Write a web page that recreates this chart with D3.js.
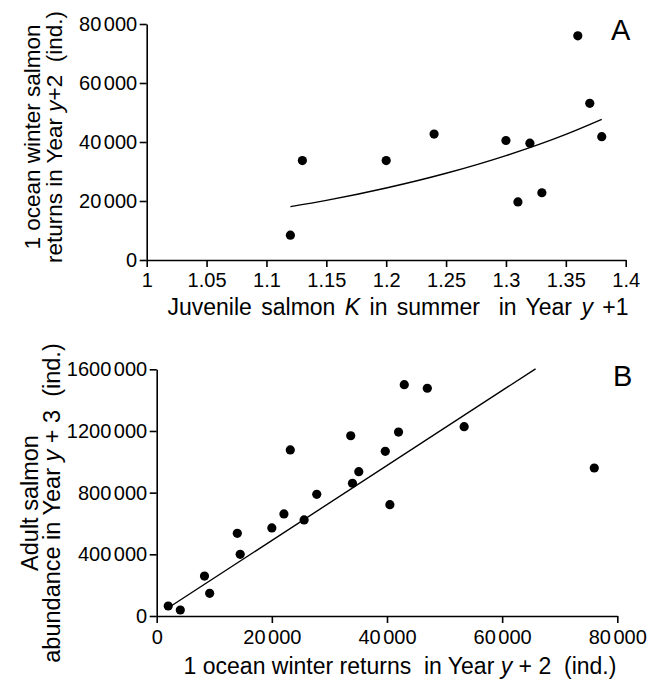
<!DOCTYPE html>
<meta charset="utf-8">
<style>
body { margin: 0; background: #fff; }
svg { font-family: "Liberation Sans", Arial, sans-serif; }
.axis path, .axis line { fill: none; stroke: #000; stroke-width: 1.6; }
.axis text { font-size: 20px; fill: #000; font-family: "Liberation Sans", Arial, sans-serif; }
.dot { fill: #000; }
.fit { fill: none; stroke: #000; stroke-width: 1.4; }
.lbl { white-space: pre; }
</style>
<body>
<svg width="658" height="680"></svg>
<script src="https://cdn.jsdelivr.net/npm/d3@7"></script>
<script>

// Panel A: juvenile condition K vs 1SW returns
var kSummer  = [1.12, 1.13, 1.20, 1.24, 1.30, 1.31, 1.32, 1.33, 1.36, 1.37, 1.38];
var returnsA = [8400, 33700, 33700, 42700, 40500, 19700, 39600, 22800, 76000, 53100, 41800];
// fitted curve
var fitAK  = [1.12, 1.15, 1.20, 1.25, 1.30, 1.35, 1.38];
var fitAY  = [18100, 20200, 24400, 29400, 35400, 42600, 47700];
var xTicksA = [1, 1.05, 1.1, 1.15, 1.2, 1.25, 1.3, 1.35, 1.4];
var yTicksA = [0, 20000, 40000, 60000, 80000];

// Panel B: 1SW returns vs adult abundance
var returnsB = [2000, 4100, 8300, 9200, 14000, 14500, 20000, 22100, 23200, 25600, 27800,
                33700, 34000, 35100, 39700, 40500, 42000, 43000, 47000, 53400, 76000];
var adults   = [65000, 39000, 259000, 147000, 536000, 400000, 571000, 662000, 1077000, 623000, 789000,
                1169000, 861000, 936000, 1068000, 722000, 1193000, 1500000, 1477000, 1228000, 960000];
var fitBX = [2300, 65800];
var fitBY = [60000, 1603000];
var xTicksB = [0, 20000, 40000, 60000, 80000];
var yTicksB = [0, 400000, 800000, 1200000, 1600000];

var svg = d3.select("svg");

// numbers with a small gap before the last three digits
function gapLabels(sel) {
  sel.selectAll(".tick text").each(function(d) {
    var t = d3.select(this);
    if (d >= 1000) {
      t.text(String(Math.floor(d / 1000)));
      t.append("tspan").attr("dx", 2.5).text("000");
    }
  });
}

function addParts(t, parts) {
  parts.forEach(function(p) {
    t.append("tspan").style("font-style", p[1] ? "italic" : "normal").text(p[0]);
  });
}

function panel(o) {
  var x = d3.scaleLinear().domain(o.xd).range(o.xr),
      y = d3.scaleLinear().domain(o.yd).range(o.yr);

  var gx = svg.append("g")
    .attr("class", "axis")
    .attr("transform", "translate(0," + o.yr[0] + ")")
    .call(d3.axisBottom(x).tickValues(o.xt).tickSize(7).tickSizeOuter(0).tickFormat(o.xf));
  gx.selectAll(".tick text").attr("y", o.xLabY).attr("dy", 0);
  gapLabels(gx);

  var gy = svg.append("g")
    .attr("class", "axis")
    .attr("transform", "translate(" + o.xr[0] + ",0)")
    .call(d3.axisLeft(y).tickValues(o.yt).tickSize(7).tickPadding(2.5).tickSizeOuter(0).tickFormat(d3.format("d")));
  gapLabels(gy);

  svg.append("path")
    .attr("class", "fit")
    .attr("d", d3.line().x(function(d) { return x(d[0]); }).y(function(d) { return y(d[1]); })
      .curve(d3.curveMonotoneX)(d3.zip(o.fx, o.fy)));

  svg.selectAll(".dot" + o.id)
    .data(d3.zip(o.px, o.py))
    .enter().append("circle")
      .attr("class", "dot dot" + o.id)
      .attr("r", 4.6)
      .attr("cx", function(d) { return x(d[0]); })
      .attr("cy", function(d) { return y(d[1]); });

  // x axis title
  var xt = svg.append("text").attr("class", "lbl")
    .attr("x", o.xTitle[0]).attr("y", o.xTitle[1])
    .attr("text-anchor", "middle")
    .style("font-size", "23px")
    .style("word-spacing", o.wordGap + "px");
  addParts(xt, o.xParts);

  // y axis title, two lines
  o.yLines.forEach(function(parts, i) {
    var t = svg.append("text").attr("class", "lbl")
      .attr("transform", "translate(" + o.yBase[i] + "," + o.yMid + ") rotate(-90)")
      .attr("text-anchor", "middle")
      .style("font-size", o.yFont + "px");
    addParts(t, parts);
  });

  svg.append("text")
    .attr("x", o.tag[0]).attr("y", o.tag[1])
    .style("font-size", "29px")
    .text(o.id);
}

panel({
  id: "A",
  xd: [1, 1.4], xr: [146.7, 625.7],
  yd: [0, 80000], yr: [260, 24],
  xt: xTicksA, yt: yTicksA,
  xf: function(d) { return String(+d.toFixed(2)); },
  xLabY: 27,
  px: kSummer, py: returnsA, fx: fitAK, fy: fitAY,
  xTitle: [398, 315], wordGap: 3,
  xParts: [["Juvenile salmon "], ["K", true], [" in summer  in Year "], ["y", true], [" +1"]],
  yMid: 137, yBase: [40, 62], yFont: 22.5,
  yLines: [[["1 ocean winter salmon"]],
           [["returns in Year "], ["y", true], ["+2  (ind.)"]]],
  tag: [611, 40]
});

panel({
  id: "B",
  xd: [0, 80000], xr: [156.7, 617.3],
  yd: [0, 1600000], yr: [616, 369.3],
  xt: xTicksB, yt: yTicksB,
  xf: d3.format("d"),
  xLabY: 28,
  px: returnsB, py: adults, fx: fitBX, fy: fitBY,
  xTitle: [400, 674], wordGap: 0,
  xParts: [["1 ocean winter returns  in Year "], ["y", true], [" + 2  (ind.)"]],
  yMid: 503, yBase: [37.5, 60], yFont: 23.5,
  yLines: [[["Adult salmon"]],
           [["abundance in Year "], ["y", true], [" + 3  (ind.)"]]],
  tag: [613, 385.7]
});

</script>
